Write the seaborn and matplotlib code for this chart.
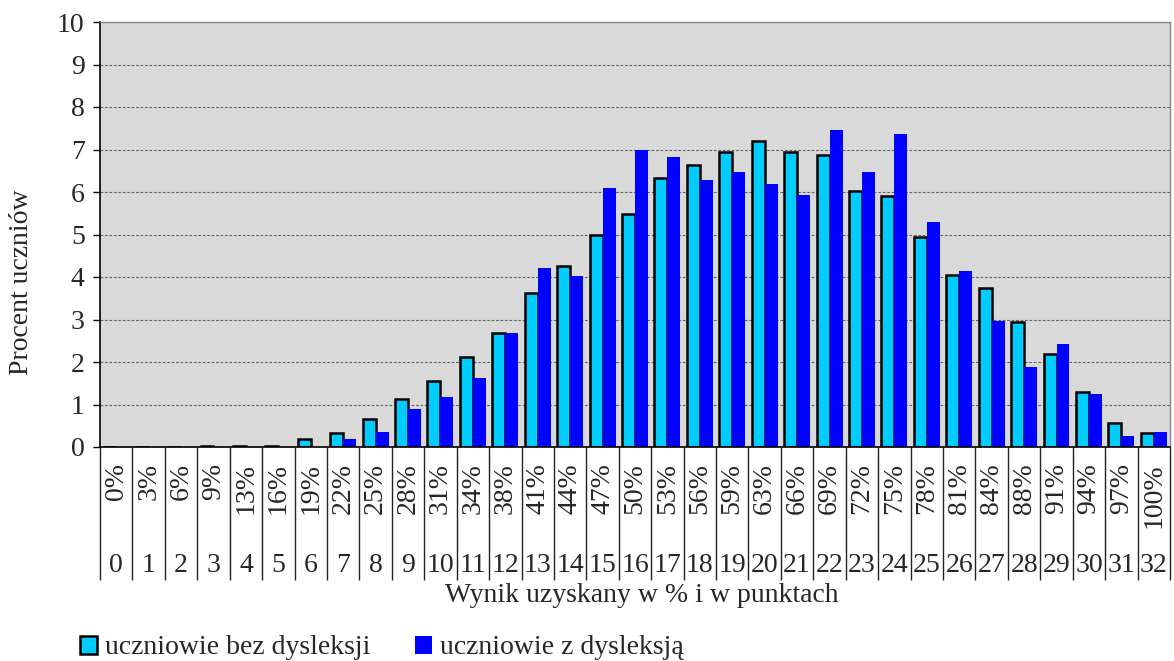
import matplotlib
matplotlib.use("Agg")
import matplotlib.pyplot as plt
import matplotlib.transforms as mtransforms
from matplotlib.patches import Patch
from matplotlib.ticker import FixedLocator
import seaborn as sns
import pandas as pd
import numpy as np

# ---- data ----
points = list(range(33))
pct_labels = ['0%', '3%', '6%', '9%', '13%', '16%', '19%', '22%', '25%', '28%', '31%',
              '34%', '38%', '41%', '44%', '47%', '50%', '53%', '56%', '59%', '63%', '66%',
              '69%', '72%', '75%', '78%', '81%', '84%', '88%', '91%', '94%', '97%', '100%']
bez_dysleksji = [0, 0, 0, 0.02, 0.02, 0.03, 0.19, 0.32, 0.66, 1.13, 1.55, 2.12, 2.69, 3.62,
                 4.27, 5.00, 5.49, 6.32, 6.64, 6.94, 7.20, 6.95, 6.87, 6.02, 5.91, 4.94, 4.05,
                 3.73, 2.95, 2.18, 1.30, 0.56, 0.33]
z_dysleksja = [0, 0, 0, 0, 0, 0, 0, 0.18, 0.36, 0.89, 1.17, 1.62, 2.69, 4.21, 4.03, 6.10,
               7.00, 6.82, 6.28, 6.46, 6.19, 5.92, 7.45, 6.46, 7.36, 5.29, 4.13, 2.96, 1.88,
               2.42, 1.25, 0.27, 0.36]
series_names = ['uczniowie bez dysleksji', 'uczniowie z dysleksją']
colors = ['#00CCFF', '#0000FF']
yticks = list(range(11))

df = pd.DataFrame({
    'wynik': points * 2,
    'procent': bez_dysleksji + z_dysleksja,
    'grupa': [series_names[0]] * len(points) + [series_names[1]] * len(points),
})

sns.set_theme(style='white')
plt.rcParams['font.family'] = ['Liberation Serif', 'DejaVu Serif']
FS = 20

W, H = 1174, 661
fig = plt.figure(figsize=(W / 100, H / 100), dpi=100)
ax = fig.add_axes([100 / W, 1 - 447 / H, 1070 / W, 425 / H])
ax.set_facecolor('#D9D9D9')

sns.barplot(data=df, x='wynik', y='procent', hue='grupa', palette=colors,
            width=0.8, dodge=True, ax=ax, legend=False, saturation=1)

for p in ax.containers[0]:
    p.set_edgecolor('black')
    p.set_linewidth(1.8)
for p in ax.containers[1]:
    p.set_edgecolor('none')

ax.set_xlim(-0.5, len(points) - 0.5)
ax.set_ylim(0, 10)
ax.set_yticks(yticks)
ax.set_yticklabels([str(t) for t in yticks], fontsize=FS)
ax.yaxis.grid(True, linestyle=(0, (2.5, 1.5)), color='#666666', linewidth=0.8)
ax.xaxis.grid(False)
ax.set_axisbelow(True)
ax.set_xlabel('')
ax.set_ylabel('')

for s in ['left', 'bottom']:
    ax.spines[s].set_color('black')
    ax.spines[s].set_linewidth(1.2)
for s in ['top', 'right']:
    ax.spines[s].set_color('#888888')
    ax.spines[s].set_linewidth(1.0)

ax.tick_params(axis='y', direction='out', length=5, width=1, color='black', pad=6, left=True)
ax.set_xticks(points)
ax.set_xticklabels([])
ax.tick_params(axis='x', which='major', length=0)
ax.xaxis.set_minor_locator(FixedLocator(np.arange(-0.5, len(points), 1.0)))
ax.tick_params(axis='x', which='minor', direction='out', length=133 * 72 / 100,
               width=1.0, color='#222222', bottom=True)

trans = mtransforms.blended_transform_factory(ax.transData, ax.transAxes)
for i, lab in zip(points, pct_labels):
    ax.text(i, -16 / 425, lab, rotation=90, ha='center', va='top',
            fontsize=FS, transform=trans)
for i in points:
    ax.text(i, -(565 - 447) / 425, str(i), ha='center', va='center',
            fontsize=FS, transform=trans)

fig.text(22 / W, 1 - 282 / H, 'Procent uczniów', rotation=90, ha='center', va='center',
         fontsize=FS)
fig.text(642 / W, 1 - 595 / H, 'Wynik uzyskany w % i w punktach', ha='center',
         va='center', fontsize=FS)

handles = [Patch(facecolor=colors[0], edgecolor='black', linewidth=1.8),
           Patch(facecolor=colors[1], edgecolor='none')]
fig.legend(handles, series_names, loc='center left', bbox_to_anchor=(80 / W, 1 - 648 / H),
           ncol=2, frameon=False, fontsize=FS, handlelength=0.6, handleheight=0.6,
           handletextpad=0.3, columnspacing=1.6, borderaxespad=0, borderpad=0)

fig.savefig('out.png', dpi=100)
